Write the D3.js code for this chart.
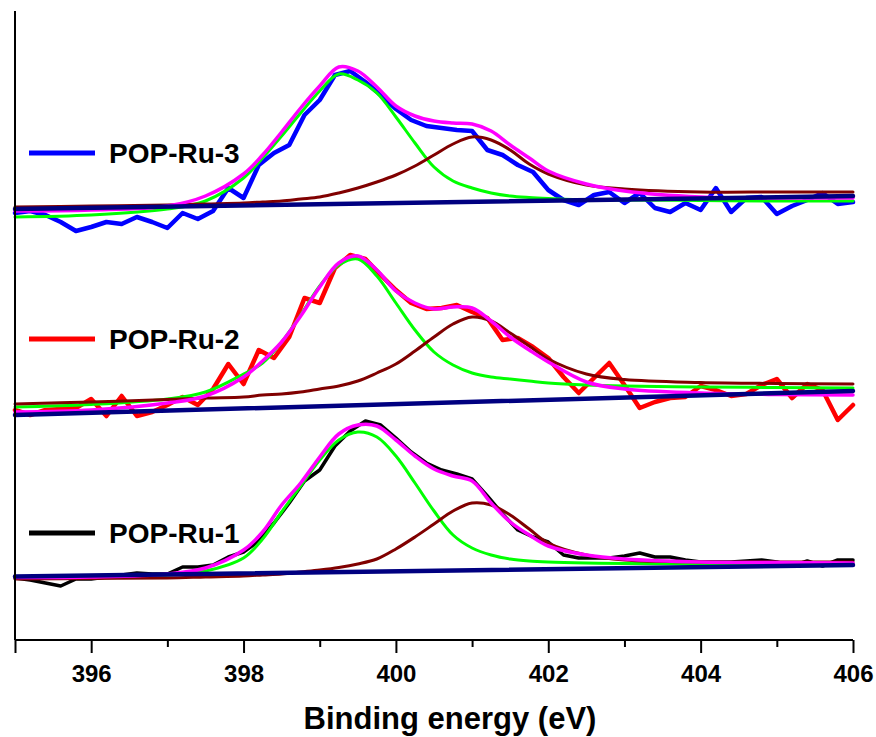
<!DOCTYPE html>
<html>
<head>
<meta charset="utf-8">
<script src="https://cdn.jsdelivr.net/npm/d3@7"></script>
<style>
  body { margin: 0; background: #ffffff; }
  svg { display: block; }
  text { font-family: "Liberation Sans", Arial, sans-serif; font-weight: bold; }
</style>
</head>
<body>
<svg id="chart" width="876" height="737"></svg>
<script>
// N 1s XPS spectra of POP-Ru-1/2/3 with peak fitting, stacked (a.u. with offsets)

// Measured spectra, 0.2 eV step from 395 to 406 eV
const rawEnergy = d3.range(56).map(i => +(395 + i * 0.2).toFixed(1));
const ru1Counts = [62,60,57,54,61,61,63,65,67,66,66,73,73,75,83,88,99,117,137,159,
                   170,194,209,219,215,202,188,177,170,166,161,144,126,110,103,98,85,82,82,82,
                   84,87,83,83,80,78,78,78,79,80,78,74,79,74,80,80];
const ru2Counts = [230,225,230,231,232,241,224,244,224,228,235,243,235,251,276,256,290,282,303,342,
                   337,372,385,381,365,350,337,331,332,335,328,322,300,302,293,282,263,247,262,277,
                   255,232,238,242,243,254,250,244,246,255,261,242,256,250,220,235];
const ru3Counts = [427,429,425,418,409,413,418,416,423,418,412,427,421,429,452,442,475,487,495,525,
                   540,565,569,558,545,531,520,514,512,510,509,490,485,475,468,450,440,435,445,448,
                   437,447,432,428,437,430,452,428,442,443,426,434,440,447,436,438];

// Fitted components sampled on a common energy grid
const fitEnergy = [395,396,397,397.5,398,398.25,398.5,398.75,399,399.25,399.5,399.75,400,
                   400.25,400.5,400.75,401,401.25,401.5,401.75,402,402.5,403,404,405,406];

const ru1PeakA   = [62,63,65,69,82,101,128,154,180,200,208,203,184,157,129,105,92,85,81,79,78,77,76.5,76,75.5,75];
const ru1PeakB   = [61,61.5,62,63,64,65,66,68,70,72.5,76,81,91,103,116,129,137,135,125,111,97,85,80,78,78,78];
const ru1Envelope= [62.5,63,66,72,90,108,135,157,183,206,215,214,200,184,171,164,159,137,118,105,94,85,81,78,77.5,77];

const ru2PeakA   = [233,235.5,241,248,266,277,298,325,354,375,381,364,337,310,288,275,267,263,261,259,257,255,254,253,252.5,252];
const ru2PeakB   = [236,238,240.5,242,243,245,246,248,251,254,259,267,276,289,303,316,323,319,307,294,281,266,260.5,257.5,256.5,256];
const ru2Envelope= [228,230,237,244,263,279,298,324,353,377,384,370,349,337,331,333,332,319,303,290,278,258,251,247,245.5,245];

const ru3PeakA   = [423,425,431,439,462,482,504,527,549,566,560,547,523,497,473,459,452,447,444,442.5,441.5,440,440,439.5,439,439];
const ru3PeakB   = [433,434,435,436,437,438,439,441,443,447,452,458,465,474,485,496,503,500,490,476,466,455,451,448,448,448];
const ru3Envelope= [429,430,434,444,466,485,508,532,554,573,569,553,534,524,519,517,516,509,495,482,469,456,449,443,442,442];

// Linear backgrounds (values at 395 and 406 eV)
const backgroundEnergy = [395, 406];
const ru1Background = [63.5, 75];
const ru2Background = [225, 249];
const ru3Background = [431, 444];

const sampleNames  = ["POP-Ru-1", "POP-Ru-2", "POP-Ru-3"];
const sampleColors = ["#000000", "#ff0000", "#0000ff"];
const majorTicks = [396, 398, 400, 402, 404, 406];
const minorTicks = [395, 397, 399, 401, 403, 405];
const xLabel = "Binding energy (eV)";

const samples = [
  { name: sampleNames[0], color: sampleColors[0], counts: ru1Counts, a: ru1PeakA, b: ru1PeakB, env: ru1Envelope, bg: ru1Background, width: 3.5, legendY: 533 },
  { name: sampleNames[1], color: sampleColors[1], counts: ru2Counts, a: ru2PeakA, b: ru2PeakB, env: ru2Envelope, bg: ru2Background, width: 4.5, legendY: 339 },
  { name: sampleNames[2], color: sampleColors[2], counts: ru3Counts, a: ru3PeakA, b: ru3PeakB, env: ru3Envelope, bg: ru3Background, width: 4.5, legendY: 153 }
];

const svg = d3.select("#chart");
const x = d3.scaleLinear().domain([395, 406]).range([15, 853]);
const y = d3.scaleLinear().domain([0, 630]).range([640, 10]);

const rawLine = d3.line().x(d => x(d[0])).y(d => y(d[1]));
const fitLine = d3.line().x(d => x(d[0])).y(d => y(d[1])).curve(d3.curveCatmullRom.alpha(0.5));

const plot = svg.append("g");
samples.forEach(s => {
  const g = plot.append("g");
  const styles = { fill: "none", "stroke-linejoin": "round", "stroke-linecap": "round" };
  const add = (d, gen, color, w) => {
    const p = g.append("path").attr("d", gen(d)).attr("stroke", color).attr("stroke-width", w);
    Object.entries(styles).forEach(([k, v]) => p.attr(k, v));
  };
  add(d3.zip(rawEnergy, s.counts), rawLine, s.color, s.width);
  add(d3.zip(fitEnergy, s.a), fitLine, "#00ff00", 3);
  add(d3.zip(fitEnergy, s.b), fitLine, "#800000", 3);
  add(d3.zip(fitEnergy, s.env), fitLine, "#ff00ff", 3.5);
  add(d3.zip(backgroundEnergy, s.bg), rawLine, "#000080", 4.5);
});

// Bottom axis: major ticks with labels, minor ticks without
const axisG = svg.append("g").attr("transform", "translate(0,640)");
axisG.call(d3.axisBottom(x).tickValues(majorTicks).tickSize(13).tickSizeOuter(0).tickPadding(12).tickFormat(d3.format("d")));
axisG.select(".domain").remove();
axisG.selectAll(".tick line").attr("stroke", "#000").attr("stroke-width", 2);
axisG.selectAll(".tick text").attr("font-size", 24).attr("fill", "#000")
  .attr("font-family", "Liberation Sans, Arial, sans-serif").attr("font-weight", "bold");

const minorG = svg.append("g").attr("transform", "translate(0,640)");
minorG.call(d3.axisBottom(x).tickValues(minorTicks).tickSize(7).tickSizeOuter(0).tickFormat(""));
minorG.select(".domain").remove();
minorG.selectAll(".tick line").attr("stroke", "#000").attr("stroke-width", 2);
minorG.selectAll(".tick").filter(d => d === 395).select("line").attr("y2", 13);

svg.append("line").attr("x1", x(395)).attr("x2", x(406)).attr("y1", 640).attr("y2", 640)
  .attr("stroke", "#000").attr("stroke-width", 2);
svg.append("line").attr("x1", x(395)).attr("x2", x(395)).attr("y1", 11).attr("y2", 640)
  .attr("stroke", "#000").attr("stroke-width", 2);

svg.append("text").attr("x", 450).attr("y", 729).attr("text-anchor", "middle")
  .attr("font-size", 31).attr("fill", "#000").text(xLabel);

// Legend entries beside each spectrum
const legend = svg.append("g");
samples.forEach(s => {
  legend.append("line").attr("x1", 29).attr("x2", 95).attr("y1", s.legendY).attr("y2", s.legendY)
    .attr("stroke", s.color).attr("stroke-width", 5);
  legend.append("text").attr("x", 109).attr("y", s.legendY + 9.5)
    .attr("font-size", 28).attr("fill", "#000").text(s.name);
});
</script>
</body>
</html>
